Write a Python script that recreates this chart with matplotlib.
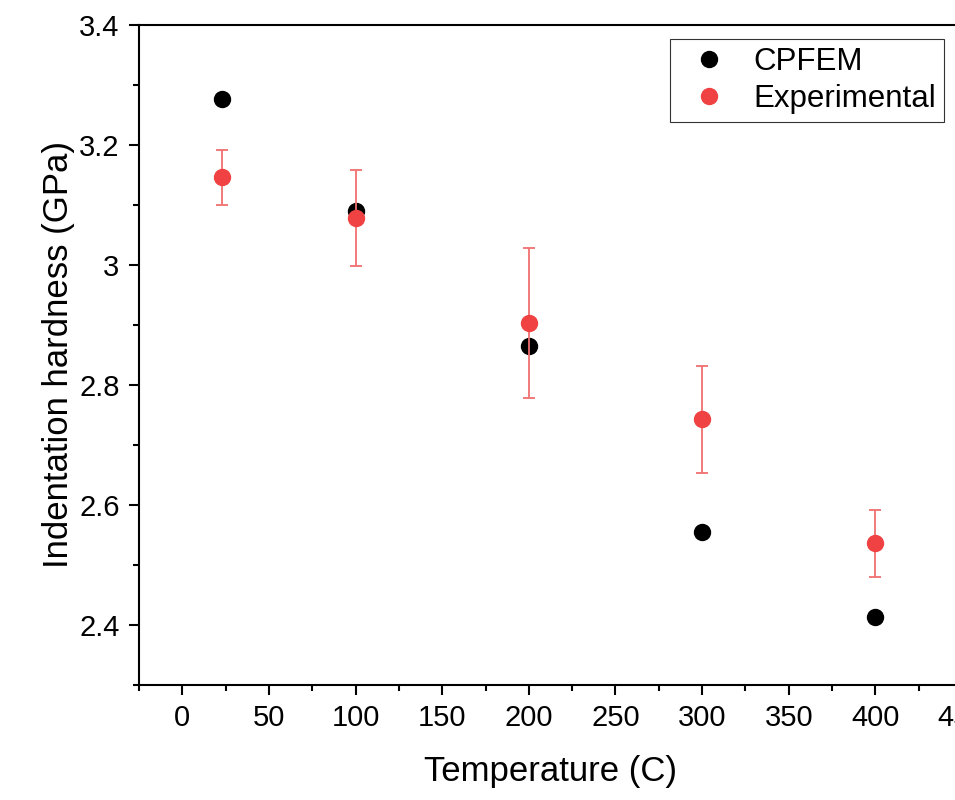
import numpy as np
import matplotlib.pyplot as plt
from matplotlib.ticker import MultipleLocator, FuncFormatter

plt.rcParams['font.family'] = ['Liberation Sans', 'DejaVu Sans']

# data
temp = [23, 100, 200, 300, 400]
cpfem = [3.277, 3.090, 2.865, 2.555, 2.413]
exp_hard = [3.146, 3.078, 2.903, 2.743, 2.536]
exp_err = [0.046, 0.080, 0.125, 0.089, 0.056]

fig = plt.figure(figsize=(9.55, 8), dpi=100)
ax = fig.add_axes([139/955, 115/800, 823/955, 660/800])

ax.plot(temp, cpfem, 'o', color='black', markersize=11.5, label='CPFEM', zorder=2)
ax.errorbar(temp, exp_hard, yerr=exp_err, fmt='none', ecolor='#f07070',
            elinewidth=1.3, capsize=4.5, capthick=1.3, zorder=3)
ax.plot(temp, exp_hard, 'o', color='#f04242', markersize=11.5, label='Experimental', zorder=4)

ax.set_xlim(-25, 450)
ax.set_ylim(2.3, 3.4)
ax.xaxis.set_major_locator(MultipleLocator(50))
ax.xaxis.set_minor_locator(MultipleLocator(25))
ax.yaxis.set_major_locator(MultipleLocator(0.2))
ax.yaxis.set_minor_locator(MultipleLocator(0.1))
ax.yaxis.set_major_formatter(FuncFormatter(lambda v, p: '%g' % round(v, 2)))

for s in ax.spines.values():
    s.set_linewidth(1.5)
ax.tick_params(which='major', direction='out', length=7, width=1.5, labelsize=21, pad=7)
ax.tick_params(which='minor', direction='out', length=4, width=1.5)

ax.set_xlabel('Temperature (C)', fontsize=25, labelpad=16)
ax.set_ylabel('Indentation hardness (GPa)', fontsize=25, labelpad=3)

leg = ax.legend(loc='upper right', bbox_to_anchor=(944/955, 1 - 39/800),
                bbox_transform=fig.transFigure, fontsize=22.5,
                frameon=True, fancybox=False, edgecolor='black', borderpad=0.25,
                handlelength=2.0, handletextpad=0.42, labelspacing=0.22,
                borderaxespad=0)
leg.get_frame().set_linewidth(0.8)

fig.savefig('out.png', dpi=100)
